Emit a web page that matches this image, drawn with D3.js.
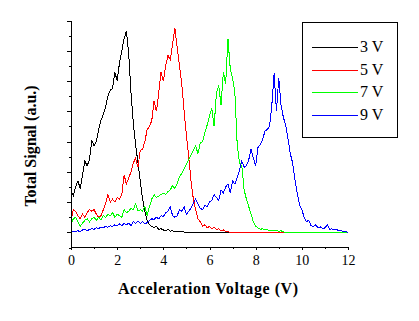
<!DOCTYPE html>
<html>
<head>
<meta charset="utf-8">
<script src="https://cdn.jsdelivr.net/npm/d3@7"></script>
<style>
  html, body { margin: 0; padding: 0; background: #fff; }
  svg { display: block; }
  .tick text { font-family: "Liberation Serif", "Times New Roman", serif; font-size: 14px; fill: #000; }
</style>
</head>
<body>
<svg id="chart" width="419" height="321"></svg>
<script>
// ---- data ----
const seriesNames = ["3 V", "5 V", "7 V", "9 V"];
const seriesColors = ["#000000", "#ff0000", "#00ff00", "#0000ff"];
const xTicks = [0, 2, 4, 6, 8, 10, 12];
const xMinorTicks = [1, 3, 5, 7, 9, 11];
const yTicks = [0, 1, 2, 3, 4, 5, 6, 7];
const yMinorTicks = [-0.5, 0.5, 1.5, 2.5, 3.5, 4.5, 5.5, 6.5];
// acceleration voltage sample grid (V), 0.1 V steps from 0 to 12
const voltage = d3.range(121).map(i => i / 10);

const signal3V = [
  1.4, 1.2, 1.5, 1.7, 1.45, 1.9, 2.35, 2.2, 2.4, 3.05,
  2.85, 3.0, 3.4, 3.7, 3.9, 4.15, 4.5, 4.7, 4.75, 5.3,
  5.0, 5.6, 6.0, 6.4, 6.65, 5.9, 4.6, 3.6, 2.9, 2.3,
  1.7, 1.1, 0.7, 0.4, 0.25, 0.2, 0.15, 0.2, 0.1, 0.12,
  0.08, 0.06, 0.1, 0.04, 0.05, 0.03, 0.04, 0.02, 0.03, 0.01,
  0, 0, 0, 0, 0, 0, 0, 0, 0, 0,
  0, 0, 0, 0, 0, 0, 0, 0, 0, 0,
  0, 0, 0, 0, 0, 0, 0, 0, 0, 0,
  0, 0, 0, 0, 0, 0, 0, 0, 0, 0,
  0, 0, 0, 0, 0, 0, 0, 0, 0, 0,
  0, 0, 0, 0, 0, 0, 0, 0, 0, 0,
  0, 0, 0, 0, 0, 0, 0, 0, 0, 0,
  0
];
const signal5V = [
  0.35, 0.75, 0.7, 0.55, 0.45, 0.6, 0.5, 0.65, 0.75, 0.7,
  0.75, 0.6, 0.5, 0.55, 0.75, 0.95, 1.25, 1.0, 1.1, 1.0,
  1.15, 1.1, 1.25, 1.9, 1.6, 1.8, 2.0, 2.3, 2.45, 2.15,
  2.7, 2.75, 3.0, 3.4, 3.5, 3.7, 4.35, 4.0, 4.6, 5.3,
  5.0, 5.5, 5.85, 5.7, 6.2, 6.75, 6.1, 5.5, 4.9, 4.0,
  3.2, 2.5, 1.7, 1.1, 0.75, 0.45, 0.35, 0.2, 0.25, 0.15,
  0.2, 0.12, 0.18, 0.1, 0.12, 0.05, 0.08, 0.03, 0.02, 0,
  0, 0, 0, 0, 0, 0, 0, 0, 0, 0,
  0, 0, 0, 0, 0, 0, 0, 0, 0, 0,
  0, 0, 0, 0, 0, 0, 0, 0, 0, 0,
  0, 0, 0, 0, 0, 0, 0, 0, 0, 0,
  0, 0, 0, 0, 0, 0, 0, 0, 0, 0,
  0
];
const signal7V = [
  0.25, 0.45, 0.5, 0.35, 0.2, 0.3, 0.4, 0.45, 0.35, 0.45,
  0.5, 0.4, 0.5, 0.4, 0.55, 0.5, 0.6, 0.55, 0.65, 0.5,
  0.6, 0.55, 0.5, 0.75, 0.65, 0.7, 0.8, 0.75, 0.95, 0.7,
  0.75, 0.7, 0.85, 0.55, 0.85, 1.1, 1.25, 1.15, 1.2, 1.25,
  1.3, 1.25, 1.35, 1.4, 1.55, 1.45, 1.6, 1.85, 1.95, 2.1,
  2.25, 2.4, 2.55, 2.7, 2.85, 2.6, 2.95, 3.0, 3.3, 3.55,
  3.85, 4.1, 3.5, 4.6, 4.85, 4.2, 5.3, 4.9, 6.4, 5.4,
  5.1, 4.6, 2.9, 2.3, 2.2, 1.4, 1.1, 0.85, 0.6, 0.35,
  0.2, 0.15, 0.1, 0.12, 0.08, 0.1, 0.05, 0.08, 0.05, 0.06,
  0.04, 0.05, 0.02, 0, 0, 0, 0, 0, 0, 0,
  0, 0, 0, 0, 0, 0, 0, 0, 0, 0,
  0, 0, 0, 0, 0, 0, 0, 0, 0, 0,
  0
];
const signal9V = [
  0.0, 0.02, 0.03, 0.05, 0.03, 0.08, 0.1, 0.05, 0.1, 0.12,
  0.1, 0.15, 0.12, 0.18, 0.15, 0.2, 0.17, 0.22, 0.2, 0.25,
  0.22, 0.28, 0.22, 0.3, 0.25, 0.3, 0.22, 0.35, 0.3, 0.38,
  0.3, 0.35, 0.28, 0.32, 0.4, 0.45, 0.42, 0.5, 0.45, 0.55,
  0.52, 0.65, 0.7, 0.85, 0.55, 0.5, 0.55, 0.75, 0.7, 0.85,
  0.6, 0.7, 0.8, 0.95, 1.1, 0.95, 0.8, 0.75, 0.9, 0.85,
  1.0, 1.05, 1.25, 1.15, 1.05, 1.4, 1.3, 1.5, 1.6, 1.3,
  1.7, 1.6, 1.8, 2.05, 2.35, 2.15, 2.2, 2.4, 2.75, 2.45,
  2.2, 2.8, 2.9, 3.05, 3.35, 3.4, 3.5, 4.2, 5.25, 4.0,
  5.1, 4.2, 3.8, 3.55, 3.1, 2.6, 2.3, 1.75, 1.3, 0.9,
  0.75, 0.5, 0.35, 0.4, 0.22, 0.2, 0.25, 0.15, 0.18, 0.12,
  0.15, 0.25, 0.1, 0.12, 0.08, 0.1, 0.05, 0.06, 0.03, 0.02,
  0.0
];
const allSignals = [signal3V, signal5V, signal7V, signal9V];

// ---- chart ----
const svg = d3.select("#chart");
const serif = '"Liberation Serif", "Times New Roman", serif';

const x = d3.scaleLinear().domain([0, 12]).range([71, 348]);
const y = d3.scaleLinear().domain([-0.5, 7]).range([247.5, 20.5]);

// curves
const line = d3.line()
  .x((d, i) => x(voltage[i]))
  .y(d => y(d));

svg.append("g").selectAll("path")
  .data(allSignals)
  .join("path")
  .attr("d", d => line(d))
  .attr("fill", "none")
  .attr("stroke", (d, i) => seriesColors[i])
  .attr("stroke-width", 1)
  .attr("shape-rendering", "crispEdges");

// x axis
const gx = svg.append("g").attr("transform", "translate(0,247)");
gx.call(d3.axisBottom(x).tickValues(xTicks).tickSize(3).tickSizeOuter(0).tickPadding(5).tickFormat(d3.format("d")));
gx.append("g").call(d3.axisBottom(x).tickValues(xMinorTicks).tickSize(2).tickFormat(""))
  .call(g => g.select(".domain").remove());

// y axis
const gy = svg.append("g").attr("transform", "translate(71,0)");
gy.call(d3.axisLeft(y).tickValues(yTicks).tickSize(4).tickSizeOuter(0).tickFormat(""));
gy.append("g").call(d3.axisLeft(y).tickValues(yMinorTicks).tickSize(2).tickFormat(""))
  .call(g => g.select(".domain").remove());

svg.selectAll(".domain, .tick line").attr("stroke", "#000").attr("shape-rendering", "crispEdges");

// axis titles
svg.append("text")
  .attr("x", 208).attr("y", 294)
  .attr("text-anchor", "middle")
  .attr("font-family", serif).attr("font-weight", "bold").attr("font-size", 16)
  .attr("textLength", 180).attr("lengthAdjust", "spacing")
  .text("Acceleration Voltage (V)");

svg.append("text")
  .attr("transform", "translate(36,146) rotate(-90)")
  .attr("text-anchor", "middle")
  .attr("font-family", serif).attr("font-weight", "bold").attr("font-size", 16)
  .text("Total Signal (a.u.)");

// legend
const legend = svg.append("g");
legend.append("rect")
  .attr("x", 302.5).attr("y", 22.5).attr("width", 95).attr("height", 115)
  .attr("fill", "#fff").attr("stroke", "#000").attr("stroke-width", 1)
  .attr("shape-rendering", "crispEdges");
const legendY = d3.scalePoint().domain(seriesNames).range([47, 115]);
const items = legend.selectAll("g.item").data(seriesNames).join("g").attr("class", "item");
items.append("line")
  .attr("x1", 312).attr("x2", 358)
  .attr("y1", d => legendY(d) + 0.5).attr("y2", d => legendY(d) + 0.5)
  .attr("stroke", (d, i) => seriesColors[i]).attr("stroke-width", 1)
  .attr("shape-rendering", "crispEdges");
items.append("text")
  .attr("x", 360).attr("y", d => legendY(d) + 5)
  .attr("font-family", serif).attr("font-size", 16)
  .text(d => d);
</script>
</body>
</html>
